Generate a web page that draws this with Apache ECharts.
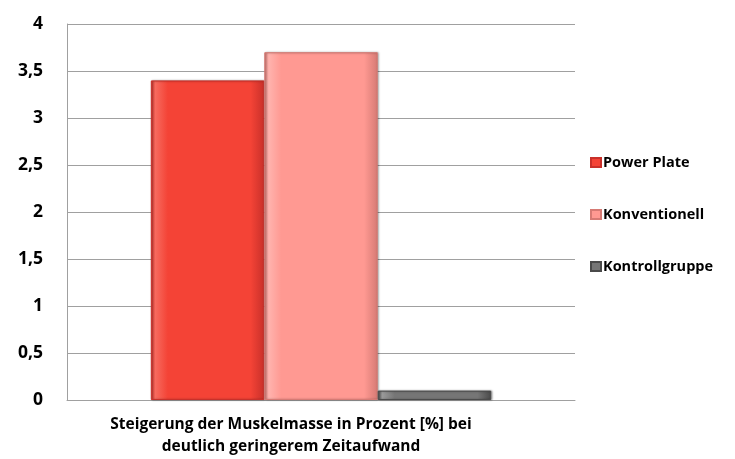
<!DOCTYPE html>
<html>
<head>
<meta charset="utf-8">
<script src="https://cdn.jsdelivr.net/npm/echarts@6/dist/echarts.min.js"></script>
<style>html,body{margin:0;padding:0;background:#fff}#c{width:735px;height:459px}</style>
</head>
<body>
<div id="c"></div>
<script>
var categories = ["Steigerung der Muskelmasse in Prozent [%] bei\ndeutlich geringerem Zeitaufwand"];
var seriesNames = ["Power Plate", "Konventionell", "Kontrollgruppe"];
var powerPlate = [3.4];
var konventionell = [3.7];
var kontrollgruppe = [0.1];
var yTicks = [0, 0.5, 1, 1.5, 2, 2.5, 3, 3.5, 4];

var colors = [
  ['#f76a5e', '#f44336', '#c9302a'],
  ['#ffb3ae', '#ff9992', '#d67a74'],
  ['#9a9a9a', '#767676', '#4a4a4a']
];
function grad(c) {
  return new echarts.graphic.LinearGradient(0, 0, 1, 0, [
    {offset: 0, color: c[2]}, {offset: 0.04, color: c[0]}, {offset: 0.15, color: c[1]},
    {offset: 0.88, color: c[1]}, {offset: 1, color: c[2]}
  ]);
}
var dataSets = [powerPlate, konventionell, kontrollgruppe];
var chart = echarts.init(document.getElementById('c'));
var font = '"Open Sans", Lato, sans-serif';
chart.setOption({
  animation: false,
  grid: {left: 67, right: 160, top: 24, bottom: 59},
  legend: {
    orient: 'vertical', left: 585, top: 150, itemGap: 37,
    itemWidth: 10, itemHeight: 9, icon: 'rect',
    textStyle: {fontFamily: font, fontWeight: 'bold', fontSize: 14.5, color: '#000', padding: [0, 0, 0, -3]},
    data: seriesNames.map(function (n, i) { return {name: n, itemStyle: {color: colors[i][1]}}; })
  },
  xAxis: {
    type: 'category', data: categories,
    axisLine: {lineStyle: {color: '#a0a0a0', width: 1}},
    axisTick: {show: false},
    axisLabel: {fontFamily: font, fontWeight: 'bold', fontSize: 15.5, color: '#000', lineHeight: 22, margin: 14,
                padding: [0, 60, 0, 0]}
  },
  yAxis: {
    type: 'value', min: 0, max: 4, interval: 0.5,
    axisLine: {show: true, lineStyle: {color: '#a0a0a0'}},
    axisTick: {show: false},
    splitLine: {lineStyle: {color: '#a0a0a0'}},
    axisLabel: {
      fontFamily: font, fontWeight: 'bold', fontSize: 17.5, color: '#000', margin: 24,
      formatter: function (v) { return String(v).replace('.', ','); }
    }
  },
  series: seriesNames.map(function (n, i) {
    return {
      name: n, type: 'bar', data: dataSets[i],
      barGap: '0%', barCategoryGap: '33%',
      itemStyle: {color: grad(colors[i]), borderColor: colors[i][2], borderWidth: 1,
                  shadowColor: 'rgba(0,0,0,0.35)', shadowBlur: 2, shadowOffsetX: 1, shadowOffsetY: 0}
    };
  })
});
</script>
</body>
</html>
